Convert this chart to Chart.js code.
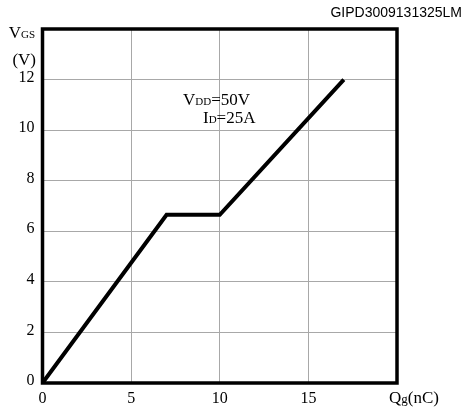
<!DOCTYPE html>
<html>
<head>
<meta charset="utf-8">
<script src="https://cdn.jsdelivr.net/npm/chart.js@4"></script>
<style>
  html, body { margin: 0; padding: 0; background: #fff; }
  #wrap { width: 464px; height: 410px; }
</style>
</head>
<body>
<div id="wrap"><canvas id="myChart" width="464" height="410"></canvas></div>
<script>
// gate charge curve
const qg = [0, 7, 10, 17];
const vgs = [0, 6.65, 6.65, 12];
const xTicks = [0, 5, 10, 15];
const yTicks = [0, 2, 4, 6, 8, 10, 12];

const serif = "'Liberation Serif', 'Times New Roman', serif";

// draw text made of runs of different sizes, starting at x
function runs(ctx, parts, x, y, align) {
    let total = 0;
    parts.forEach(p => {
        ctx.font = p[1] + "px " + serif;
        total += ctx.measureText(p[0]).width;
    });
    if (align === "right") x -= total;
    parts.forEach(p => {
        ctx.font = p[1] + "px " + serif;
        ctx.fillText(p[0], x, y + (p[2] || 0));
        x += ctx.measureText(p[0]).width;
    });
}

const extras = {
    id: "extras",
    afterDraw(chart) {
        const ctx = chart.ctx;
        const a = chart.chartArea;
        ctx.save();
        ctx.strokeStyle = "#000";
        ctx.lineWidth = 3.5;
        ctx.strokeRect(a.left, a.top, a.right - a.left, a.bottom - a.top);

        ctx.fillStyle = "#000";
        ctx.textBaseline = "alphabetic";
        ctx.textAlign = "left";
        runs(ctx, [["V", 17], ["GS", 11]], 35, 38, "right");
        runs(ctx, [["(V)", 17]], 36, 65, "right");
        runs(ctx, [["Q", 17], ["g", 13], ["(nC)", 17]], 389, 403);
        runs(ctx, [["V", 17], ["DD", 11], ["=50V", 17]], 183, 105);
        runs(ctx, [["I", 17], ["D", 11], ["=25A", 17]], 203, 123);

        ctx.font = "14px 'Liberation Sans', Arial, sans-serif";
        ctx.textAlign = "right";
        ctx.fillText("GIPD3009131325LM", 462, 17);
        ctx.restore();
    }
};

window.onload = () => {
    const data = {
        datasets: [{
            data: qg.map((q, i) => ({ x: q, y: vgs[i] })),
            borderColor: "#000",
            borderWidth: 4,
            pointRadius: 0,
            tension: 0,
            fill: false
        }]
    };

    const config = {
        type: "line",
        data: data,
        options: {
            responsive: false,
            animation: false,
            events: [],
            layout: {
                padding: { left: 0, top: 29, right: 67, bottom: 0 }
            },
            plugins: {
                legend: { display: false },
                tooltip: { enabled: false }
            },
            scales: {
                x: {
                    type: "linear",
                    min: 0,
                    max: 20,
                    afterBuildTicks: s => { s.ticks = xTicks.concat([20]).map(v => ({ value: v })); },
                    afterFit: s => { s.height = 27; },
                    grid: { color: "#a8a8a8", lineWidth: 1, drawTicks: false },
                    border: { display: false },
                    ticks: {
                        color: "#000",
                        padding: 6,
                        maxRotation: 0,
                        font: { family: serif, size: 16 },
                        callback: v => xTicks.includes(v) ? String(v) : ""
                    }
                },
                y: {
                    min: 0,
                    max: 14,
                    afterBuildTicks: s => { s.ticks = yTicks.concat([14]).map(v => ({ value: v })); },
                    afterFit: s => { s.width = 42.5; },
                    grid: { color: "#a8a8a8", lineWidth: 1, drawTicks: false },
                    border: { display: false },
                    ticks: {
                        color: "#000",
                        padding: 8,
                        labelOffset: -2,
                        font: { family: serif, size: 16 },
                        callback: v => yTicks.includes(v) ? String(v) : ""
                    }
                }
            }
        },
        plugins: [extras]
    };

    const ctx = document.getElementById("myChart").getContext("2d");
    new Chart(ctx, config);
};
</script>
</body>
</html>
